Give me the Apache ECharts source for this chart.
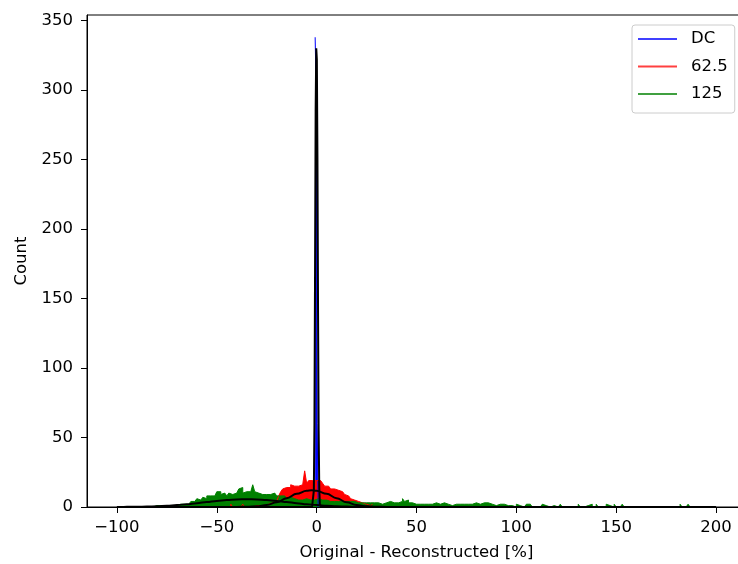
<!DOCTYPE html>
<html>
<head>
<meta charset="utf-8">
<script src="https://cdn.jsdelivr.net/npm/echarts@6/dist/echarts.min.js"></script>
<style>
  html, body { margin: 0; padding: 0; background: #fff; }
  #chart { width: 738px; height: 564px; }
</style>
</head>
<body>
<div id="chart"></div>
<script>
// Histogram counts per bin (left bin edge = start + i * width)
const dcStart = -0.75;
const dcWidth = 0.5;
const dcCounts = [338, 300, 60];

const redStart = -45;
const redWidth = 1;
const redCounts = [
  0, 0, 2, 0, 0, 0, 0, 0, 2, 0,
  0, 1, 0, 0, 1, 0, 1, 2, 1, 2,
  2, 2, 3, 3, 4, 5, 8, 11, 13, 14,
  15, 14, 16, 15, 16, 15, 15, 16, 17, 26,
  17, 19, 19, 20, 19, 18, 19, 18, 17, 15,
  15, 14, 13, 13, 12, 12, 12, 11, 10, 9,
  8, 7, 6, 5, 5, 4, 4, 3, 3, 2,
  2, 1, 2
];

const greenStart = -82;
const greenWidth = 1;
const greenCounts = [
  0, 1, 0, 1, 1, 0, 1, 1, 2, 1,
  2, 1, 2, 2, 3, 2, 3, 2, 3, 4,
  4, 5, 6, 5, 6, 7, 6, 8, 8, 7,
  8, 9, 11, 11, 9, 10, 9, 8, 10, 9,
  10, 10, 11, 13, 14, 10, 11, 10, 11, 12,
  16, 11, 10, 10, 9, 10, 9, 10, 9, 9,
  10, 9, 8, 8, 7, 8, 7, 6, 7, 6,
  6, 6, 5, 6, 5, 5, 6, 5, 5, 5,
  5, 5, 6, 5, 5, 5, 5, 5, 4, 5,
  4, 5, 4, 4, 4, 4, 4, 3, 4, 3,
  4, 3, 3, 4, 3, 3, 3, 3, 3, 4,
  3, 3, 3, 3, 2, 3, 3, 3, 4, 3,
  3, 3, 3, 3, 4, 6, 4, 5, 3, 3,
  2, 2, 2, 2, 1, 2, 2, 2, 2, 2,
  2, 3, 2, 2, 2, 3, 2, 2, 2, 1,
  2, 2, 2, 2, 3, 2, 2, 2, 2, 2,
  2, 3, 2, 2, 3, 3, 2, 3, 2, 2,
  2, 1, 2, 2, 1, 2, 1, 1, 0, 1,
  0, 0, 2, 1, 0, 0, 1, 2, 2, 1,
  0, 0, 1, 0, 0, 2, 1, 0, 0, 0,
  1, 0, 0, 0, 2, 0, 0, 1, 0, 0,
  0, 0, 0, 2, 0, 0, 0, 1, 0, 2,
  0, 0, 2, 0, 0, 0, 0, 2, 1, 0,
  0, 2, 0, 0, 0, 2, 0, 0, 0, 0,
  0, 0, 0, 0, 0, 0, 0, 0, 0, 0,
  0, 0, 0, 0, 0, 0, 0, 0, 0, 0,
  0, 0, 0, 0, 2, 0, 0, 0, 2, 0,
  0, 0
];

// Gaussian fit curves, sampled points
const dcFitX = [-100, -2.3, -1.8, -1.4, -1.1, -0.8, -0.5, -0.2, 0.1, 0.4, 0.7, 1.0, 1.3, 1.6, 2.2, 200];
const dcFitY = [0, 0, 1, 12, 60, 170, 285, 330, 322, 250, 140, 55, 14, 2, 0, 0];

const redFitX = [-100, -45, -40, -35, -30, -25, -20, -15, -10, -5, -2.5, 0, 5, 10, 15, 20, 25, 30, 35, 40, 200];
const redFitY = [0, 0, 0.04, 0.15, 0.53, 1.48, 3.39, 6.29, 9.51, 11.69, 12, 11.69, 9.51, 6.29, 3.39, 1.48, 0.53, 0.15, 0.04, 0, 0];

const greenFitX = [-100, -95, -90, -85, -80, -75, -70, -65, -60, -55, -50, -45, -40, -35, -30, -25, -20, -15, -10, -5, 0, 5, 10, 15, 20, 25, 30, 35, 40, 200];
const greenFitY = [0.05, 0.09, 0.18, 0.33, 0.56, 0.91, 1.40, 2.02, 2.76, 3.56, 4.34, 5.00, 5.44, 5.60, 5.44, 5.00, 4.34, 3.56, 2.76, 2.02, 1.40, 0.91, 0.56, 0.33, 0.18, 0.09, 0.05, 0.02, 0.01, 0];

const xTicks = [-100, -50, 0, 50, 100, 150, 200];
const yTicks = [0, 50, 100, 150, 200, 250, 300, 350];

const seriesNames = ['DC', '62.5', '125'];
const seriesColors = ['#0000ff', '#ff0000', '#008000'];
const legendColors = ['rgba(0,0,255,0.75)', 'rgba(255,0,0,0.75)', 'rgba(0,128,0,0.75)'];

function histPoints(start, width, counts) {
  const pts = counts.map((c, i) => [start + i * width, c]);
  pts.push([start + counts.length * width, 0]);
  return pts;
}
function zipXY(xs, ys) {
  return xs.map((x, i) => [x, ys[i]]);
}

const FONT = 'DejaVu Sans';
const FS = 16.5;
const minus = v => String(v).replace('-', '\u2212');

function histSeries(name, color, data) {
  return {
    name: name,
    type: 'line',
    step: 'end',
    data: data,
    symbol: 'none',
    lineStyle: { color: color, width: 1 },
    itemStyle: { color: color },
    areaStyle: { color: color, opacity: 1 },
    emphasis: { disabled: true },
    silent: true
  };
}
function fitSeries(name, data, smooth) {
  return {
    name: name,
    type: 'line',
    data: data,
    symbol: 'none',
    smooth: smooth,
    smoothMonotone: 'x',
    lineStyle: { color: '#000', width: 2 },
    itemStyle: { color: '#000' },
    emphasis: { disabled: true },
    silent: true
  };
}

const chart = echarts.init(document.getElementById('chart'), null, { renderer: 'canvas' });
chart.setOption({
  animation: false,
  backgroundColor: '#fff',
  textStyle: { fontFamily: FONT },
  // the frame runs past the right edge of the canvas
  grid: {
    left: 87, top: 15, right: -8, bottom: 57,
    outerBoundsMode: 'none',
    containLabel: false,
    show: true, borderColor: '#000', borderWidth: 1, backgroundColor: 'transparent'
  },
  legend: {
    orient: 'vertical',
    left: 632, top: 25,
    padding: [4, 7, 9, 6],
    itemWidth: 39, itemHeight: 2,
    itemGap: 7.5,
    icon: 'rect',
    backgroundColor: 'rgba(255,255,255,0.8)',
    borderColor: '#cccccc', borderWidth: 1, borderRadius: 3,
    textStyle: { fontFamily: FONT, fontSize: FS, color: '#000', lineHeight: 20, padding: [0, 0, 0, 9] },
    data: seriesNames.map((n, i) => ({ name: n, itemStyle: { color: legendColors[i] } })),
    selectedMode: false
  },
  xAxis: {
    type: 'value',
    min: -115, max: 215,
    name: 'Original - Reconstructed [%]',
    nameLocation: 'middle', nameGap: 37,
    nameTextStyle: { fontFamily: FONT, fontSize: FS, color: '#000' },
    axisLine: { show: true, onZero: false, lineStyle: { color: '#000', width: 1 } },
    axisTick: { show: true, length: 6, lineStyle: { color: '#000' }, customValues: xTicks },
    axisLabel: { fontFamily: FONT, fontSize: FS, color: '#000', margin: 12, customValues: xTicks, formatter: minus },
    splitLine: { show: false }
  },
  yAxis: {
    type: 'value',
    min: 0, max: 354,
    name: 'Count',
    nameLocation: 'middle', nameGap: 56, nameRotate: 90,
    nameTextStyle: { fontFamily: FONT, fontSize: FS, color: '#000' },
    axisLine: { show: true, onZero: false, lineStyle: { color: '#000', width: 1 } },
    axisTick: { show: true, length: 6, lineStyle: { color: '#000' }, customValues: yTicks },
    axisLabel: { fontFamily: FONT, fontSize: FS, color: '#000', margin: 14, customValues: yTicks },
    splitLine: { show: false }
  },
  series: [
    histSeries(seriesNames[0], seriesColors[0], histPoints(dcStart, dcWidth, dcCounts)),
    histSeries(seriesNames[1], seriesColors[1], histPoints(redStart, redWidth, redCounts)),
    histSeries(seriesNames[2], seriesColors[2], histPoints(greenStart, greenWidth, greenCounts)),
    fitSeries('fit 125', zipXY(greenFitX, greenFitY), 0.4),
    fitSeries('fit 62.5', zipXY(redFitX, redFitY), 0.4),
    fitSeries('fit DC', zipXY(dcFitX, dcFitY), false)
  ]
});
</script>
</body>
</html>
